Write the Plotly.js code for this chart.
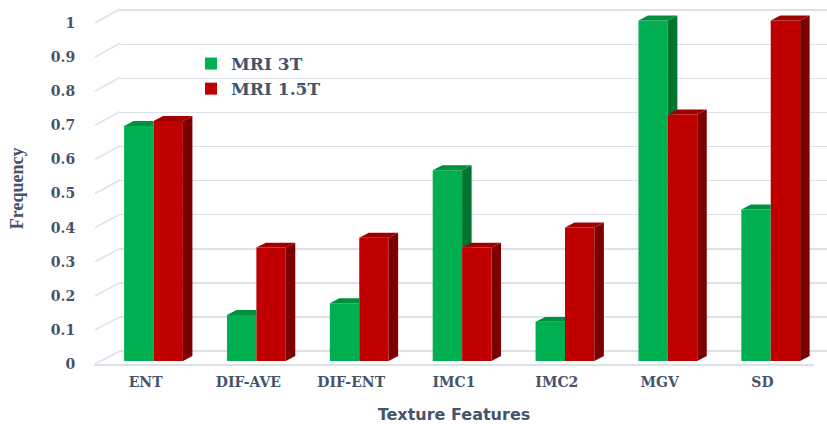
<!DOCTYPE html>
<html>
<head>
<meta charset="utf-8">
<script src="https://cdn.plot.ly/plotly-3.0.1.min.js"></script>
<style>html,body{margin:0;padding:0;background:#fff;}#chart{width:827px;height:424px;}</style>
</head>
<body>
<div id="chart"></div>
<script>
var categories = ['ENT', 'DIF-AVE', 'DIF-ENT', 'IMC1', 'IMC2', 'MGV', 'SD'];
var mri3T = [0.69, 0.135, 0.17, 0.56, 0.115, 1.0, 0.445];
var mri15T = [0.705, 0.333, 0.362, 0.333, 0.392, 0.724, 1.0];
var yTicks = [0, 0.1, 0.2, 0.3, 0.4, 0.5, 0.6, 0.7, 0.8, 0.9, 1];
var yTickText = ['0', '0.1', '0.2', '0.3', '0.4', '0.5', '0.6', '0.7', '0.8', '0.9', '1'];

var W = 827, H = 424;
var textColor = '#44546A';
var gridColor = '#DCE0E8';

function ydom(y0, s, r) { return [(H - (y0 - r[0] * s)) / H, (H - (y0 - r[1] * s)) / H]; }
function xdom(c0, step, r) { return [(c0 + r[0] * step) / W, (c0 + r[1] * step) / W]; }

var gridY = {y0: 351, s: 342, r: [-0.03, 1.03]};
var labY = {y0: 364, s: 341, r: [0, 1.03]};
var barY = {y0: 361, s: 342, r: [-0.03, 1.06]};
var barStep = 102.87, barC0 = 153.5;
var labStep = 102.8, labC0 = 145.6;

var bw = 0.2858;
var dx = 9.5 / barStep;
var dy = 5 / barY.s;

var idx = categories.map(function (c, i) { return i; });

function polys(list) {
  var xs = [], ys = [];
  list.forEach(function (p) {
    p.forEach(function (pt) { xs.push(pt[0]); ys.push(pt[1]); });
    xs.push(p[0][0]); ys.push(p[0][1]);
    xs.push(null); ys.push(null);
  });
  return {x: xs, y: ys};
}

var gSide = [], gTop = [], rSide = [], rTop = [];
idx.forEach(function (i) {
  var vg = mri3T[i], vr = mri15T[i];
  var gl = i - bw, gr = i;
  var rl = i, rr = i + bw;
  gTop.push([[gl, vg], [gr, vg], [gr, vg + dy], [gl + dx, vg + dy]]);
  if (vg > vr) {
    gTop.push([[gr, vg], [gr + dx, vg + dy], [gr, vg + dy]]);
    gSide.push([[gr, vr], [gr + dx, vr], [gr + dx, vg + dy], [gr, vg]]);
  }
  rSide.push([[rr, 0], [rr + dx, dy], [rr + dx, vr + dy], [rr, vr]]);
  rTop.push([[rl, vr], [rr, vr], [rr + dx, vr + dy], [rl + dx, vr + dy]]);
});

function polyTrace(list, color) {
  var p = polys(list);
  return {x: p.x, y: p.y, xaxis: 'x3', yaxis: 'y3', type: 'scatter', mode: 'lines',
    fill: 'toself', fillcolor: color, line: {width: 0, color: color},
    showlegend: false, hoverinfo: 'skip', connectgaps: false};
}

var traces = [
  {x: [0], y: [null], xaxis: 'x', yaxis: 'y', type: 'scatter', showlegend: false, hoverinfo: 'skip'},
  {x: categories, y: categories.map(function () { return null; }), xaxis: 'x2', yaxis: 'y2',
    type: 'scatter', showlegend: false, hoverinfo: 'skip'},
  {x: idx, y: mri3T, name: 'MRI 3T', type: 'bar', xaxis: 'x3', yaxis: 'y3',
    width: bw, offset: -bw, marker: {color: '#00B050', line: {width: 0}}},
  {x: idx, y: mri15T, name: 'MRI 1.5T', type: 'bar', xaxis: 'x3', yaxis: 'y3',
    width: bw, offset: 0, marker: {color: '#C00000', line: {width: 0}}},
  polyTrace(gSide, '#00752F'),
  polyTrace(gTop, '#00913F'),
  polyTrace(rSide, '#7C0000'),
  polyTrace(rTop, '#A00000')
];

var shapes = yTicks.map(function (v) {
  return {type: 'line', xref: 'paper', yref: 'paper',
    x0: 95 / W, y0: (H - (364 - v * 341)) / H,
    x1: 120 / W, y1: (H - (351 - v * 342)) / H,
    line: {color: gridColor, width: 1.5}};
});

var serif = 'DejaVu Serif';

var layout = {
  width: W, height: H,
  margin: {l: 0, r: 0, t: 0, b: 0},
  paper_bgcolor: '#ffffff', plot_bgcolor: 'rgba(0,0,0,0)',
  barmode: 'overlay',
  showlegend: true,
  legend: {x: 191 / W, y: 1 - 46 / H, xanchor: 'left', yanchor: 'top',
    bgcolor: 'rgba(0,0,0,0)', tracegroupgap: 6,
    font: {family: serif, size: 17, color: textColor, weight: 'bold'}},
  xaxis: {domain: [120 / W, 1], range: [0, 1], showgrid: false, showticklabels: false,
    zeroline: false, showline: false, fixedrange: true},
  yaxis: {domain: ydom(gridY.y0, gridY.s, gridY.r), range: gridY.r, tickvals: yTicks,
    showgrid: true, gridcolor: gridColor, gridwidth: 1.5, showticklabels: false,
    zeroline: false, showline: false, fixedrange: true},
  xaxis2: {domain: xdom(labC0, labStep, [-0.5, 6.5]), range: [-0.5, 6.5], type: 'category',
    anchor: 'y2', showgrid: false, zeroline: false, showline: true, linecolor: gridColor,
    linewidth: 1.5, ticks: '', ticklabelstandoff: 5,
    tickfont: {family: serif, size: 14, color: textColor, weight: 'bold'},
    title: {text: 'Texture Features', standoff: 20,
      font: {family: 'DejaVu Sans', size: 16, color: textColor, weight: 'bold'}}},
  yaxis2: {domain: ydom(labY.y0, labY.s, labY.r), range: labY.r, anchor: 'x2',
    tickvals: yTicks, ticktext: yTickText, showgrid: false, zeroline: false, showline: false,
    ticks: '', ticklabelstandoff: 18,
    tickfont: {family: serif, size: 14, color: textColor, weight: 'bold'},
    title: {text: 'Frequency', standoff: 22,
      font: {family: 'Liberation Serif', size: 18, color: textColor, weight: 'bold'}}},
  xaxis3: {domain: xdom(barC0, barStep, [-0.5, 6.5]), range: [-0.5, 6.5], anchor: 'y3',
    showgrid: false, showticklabels: false, zeroline: false, showline: false, fixedrange: true},
  yaxis3: {domain: ydom(barY.y0, barY.s, barY.r), range: barY.r, anchor: 'x3',
    showgrid: false, showticklabels: false, zeroline: false, showline: false, fixedrange: true},
  shapes: shapes
};

Plotly.newPlot('chart', traces, layout, {displayModeBar: false, staticPlot: true});
</script>
</body>
</html>
